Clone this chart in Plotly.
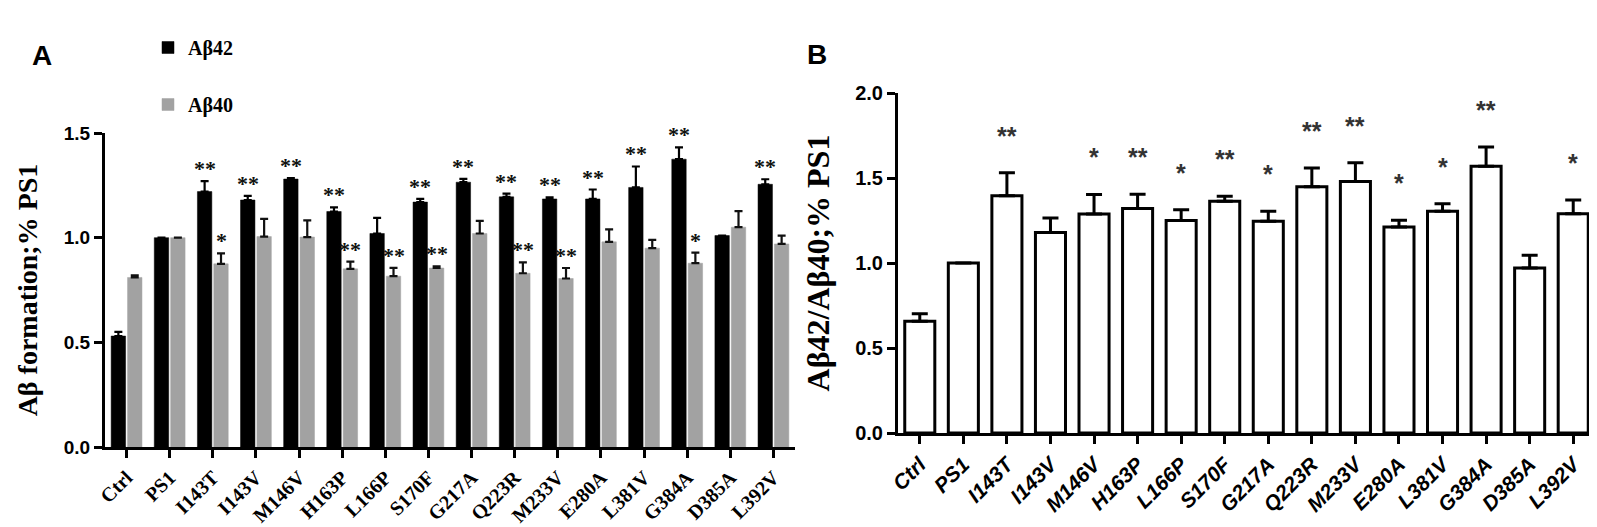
"""Two-panel Aβ figure: Aβ42 / Aβ40 formation per PS1 mutant (A) and the Aβ42/Aβ40 ratio (B)."""
import plotly.graph_objects as go

MUTANTS = ["Ctrl", "PS1", "I143T", "I143V", "M146V", "H163P", "L166P", "S170F",
           "G217A", "Q223R", "M233V", "E280A", "L381V", "G384A", "D385A", "L392V"]

# panel A: formation relative to PS1 (mean, upper SEM)
AB42 = [0.53, 1.00, 1.22, 1.18, 1.28, 1.125, 1.02, 1.17, 1.265, 1.195, 1.185, 1.185, 1.24, 1.375, 1.01, 1.255]
AB42_ERR = [0.02, 0.0, 0.05, 0.02, 0.005, 0.02, 0.075, 0.015, 0.016, 0.015, 0.008, 0.045, 0.10, 0.056, 0.0, 0.024]
AB40 = [0.81, 1.00, 0.875, 1.005, 1.003, 0.851, 0.816, 0.855, 1.02, 0.83, 0.805, 0.98, 0.95, 0.878, 1.05, 0.97]
AB40_ERR = [0.01, 0.0, 0.05, 0.085, 0.08, 0.035, 0.04, 0.008, 0.06, 0.052, 0.05, 0.06, 0.039, 0.051, 0.077, 0.04]
STARS_42 = ["", "", "**", "**", "**", "**", "", "**", "**", "**", "**", "**", "**", "**", "", "**"]
STARS_40 = ["", "", "*", "", "", "**", "**", "**", "", "**", "**", "", "", "*", "", ""]

# panel B: Aβ42/Aβ40 ratio relative to PS1
RATIO = [0.657, 1.00, 1.396, 1.18, 1.288, 1.32, 1.25, 1.363, 1.245, 1.449, 1.48, 1.212, 1.304, 1.569, 0.97, 1.29]
RATIO_ERR = [0.045, 0.0, 0.135, 0.085, 0.115, 0.085, 0.063, 0.03, 0.06, 0.11, 0.11, 0.04, 0.045, 0.113, 0.075, 0.08]
STARS_R = ["", "", "**", "", "*", "**", "*", "**", "*", "**", "**", "*", "*", "**", "", "*"]

W, H = 1597, 527
SERIF = "Liberation Serif"
SANS = "Liberation Sans"
GREY = "#a2a2a2"
BARGAP = 0.24


def px_x(p):
    return p / W


def px_y(p):
    return 1 - p / H


fig = go.Figure()

fig.add_trace(go.Bar(
    x=MUTANTS, y=AB42, name="Aβ42", xaxis="x", yaxis="y", legendgroup="a42",
    marker=dict(color="#000000", line=dict(color="#000000", width=0.5)),
    error_y=dict(type="data", array=AB42_ERR, symmetric=False,
                 arrayminus=[0] * len(AB42_ERR), color="#000000", thickness=2.2, width=4),
))
fig.add_trace(go.Bar(
    x=MUTANTS, y=AB40, name="Aβ40", xaxis="x", yaxis="y", legendgroup="a40",
    marker=dict(color=GREY, line=dict(color=GREY, width=0.5)),
    error_y=dict(type="data", array=AB40_ERR, symmetric=False,
                 arrayminus=[0] * len(AB40_ERR), color="#111111", thickness=2.2, width=4),
))
fig.add_trace(go.Bar(
    x=MUTANTS, y=RATIO, name="Aβ42/Aβ40", xaxis="x2", yaxis="y2", showlegend=False,
    width=0.69,
    marker=dict(color="#ffffff", line=dict(color="#000000", width=3)),
    error_y=dict(type="data", array=RATIO_ERR, symmetric=False,
                 arrayminus=[0] * len(RATIO_ERR), color="#000000", thickness=3, width=8),
))

# significance marks
half = (1 - BARGAP) / 4
star_a = dict(family=SERIF, size=22, color="#111111", weight="bold")
ann = []
for i, (v, e, s) in enumerate(zip(AB42, AB42_ERR, STARS_42)):
    if s:
        ann.append(dict(x=i - half, y=v + e, xref="x", yref="y", text=s, showarrow=False,
                        yanchor="bottom", yshift=-2, font=star_a))
for i, (v, e, s) in enumerate(zip(AB40, AB40_ERR, STARS_40)):
    if s:
        ann.append(dict(x=i + half, y=v + e, xref="x", yref="y", text=s, showarrow=False,
                        yanchor="bottom", yshift=-2, font=star_a))
for i, (v, e, s) in enumerate(zip(RATIO, RATIO_ERR, STARS_R)):
    if s:
        ann.append(dict(x=i, y=v + e, xref="x2", yref="y2", text=s, showarrow=False,
                        yanchor="bottom", yshift=21,
                        font=dict(family=SANS, size=25, color="#333333", weight="bold")))

# panel letters
ann.append(dict(x=px_x(22), y=px_y(48), xref="paper", yref="paper", text="A", showarrow=False,
                xanchor="left", yanchor="middle",
                font=dict(family=SANS, size=28, color="#000000", weight="bold")))
ann.append(dict(x=px_x(797), y=px_y(46), xref="paper", yref="paper", text="B", showarrow=False,
                xanchor="left", yanchor="middle",
                font=dict(family=SANS, size=28, color="#000000", weight="bold")))

axis_common = dict(showline=True, linecolor="#000000", linewidth=3, ticks="outside",
                   ticklen=8, tickwidth=3, tickcolor="#000000", showgrid=False,
                   zeroline=False, automargin=False)

fig.update_layout(
    width=W, height=H,
    margin=dict(l=0, r=0, t=0, b=0),
    paper_bgcolor="#ffffff", plot_bgcolor="#ffffff",
    barmode="group", bargap=BARGAP, bargroupgap=0.12,
    showlegend=True,
    legend=dict(x=px_x(140), y=px_y(20), xanchor="left", yanchor="top",
                font=dict(family=SERIF, size=20, color="#000000", weight="bold"),
                tracegroupgap=28, bgcolor="rgba(0,0,0,0)"),
    annotations=ann,
    xaxis=dict(domain=[px_x(97), px_x(787)], anchor="y", type="category",
               tickangle=-45, range=[-0.5, 15.5],
               tickfont=dict(family=SERIF, size=20, color="#000000", weight="bold"),
               **axis_common),
    yaxis=dict(domain=[px_y(439), px_y(125)], anchor="x", range=[0, 1.5], dtick=0.5,
               tickformat=".1f",
               tickfont=dict(family=SANS, size=19, color="#000000", weight="bold"),
               title=dict(text="Aβ formation;% PS1", standoff=18,
                          font=dict(family=SERIF, size=28, color="#000000", weight="bold")),
               **axis_common),
    xaxis2=dict(domain=[px_x(890), px_x(1587)], anchor="y2", type="category",
                tickangle=-45, range=[-0.5, 15.5],
                tickfont=dict(family=SANS, size=21, color="#000000", weight="bold", style="italic"),
                **axis_common),
    yaxis2=dict(domain=[px_y(425), px_y(85)], anchor="x2", range=[0, 2.0], dtick=0.5,
                tickformat=".1f",
                tickfont=dict(family=SANS, size=20, color="#000000", weight="bold"),
                title=dict(text="Aβ42/Aβ40;% PS1", standoff=16,
                           font=dict(family=SERIF, size=32, color="#000000", weight="bold")),
                **axis_common),
)

fig.write_html("out.html")
